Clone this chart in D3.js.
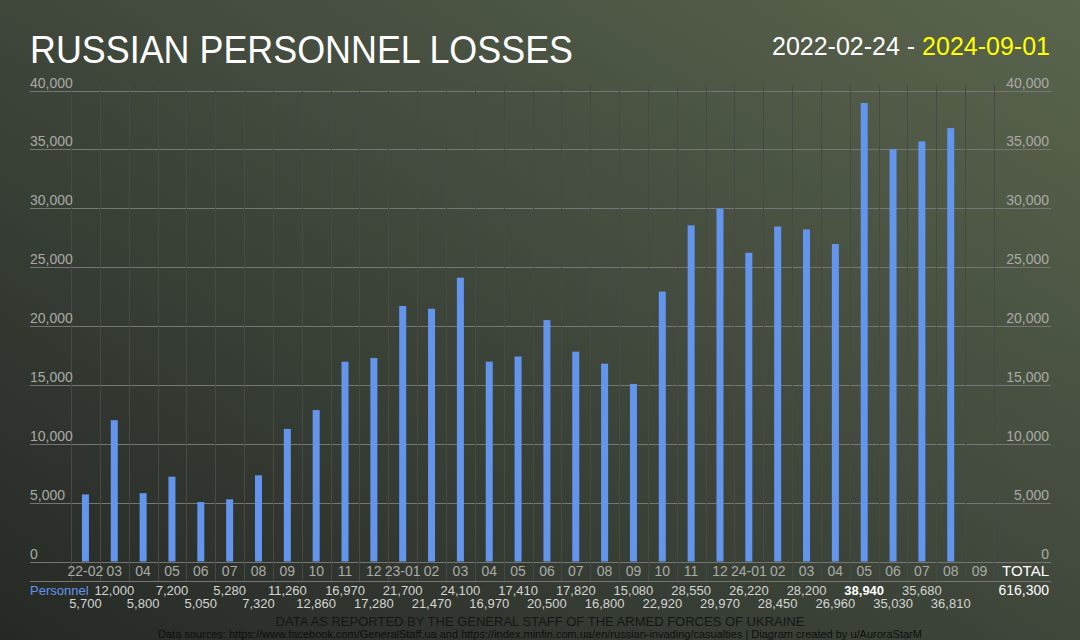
<!DOCTYPE html>
<html>
<head>
<meta charset="utf-8">
<script src="https://cdn.jsdelivr.net/npm/d3@7"></script>
<style>
  html, body { margin: 0; padding: 0; background: #333; overflow: hidden; }
  svg { display: block; }
</style>
</head>
<body>
<script>
var w = 1080,
    h = 640;

var months = ["22-02","03","04","05","06","07","08","09","10","11","12",
  "23-01","02","03","04","05","06","07","08","09","10","11","12",
  "24-01","02","03","04","05","06","07","08","09"];

var personnel = [5700, 12000, 5800, 7200, 5050, 5280, 7320, 11260, 12860, 16970, 17280,
  21700, 21470, 24100, 16970, 17410, 20500, 17820, 16800, 15080, 22920, 28550, 29970,
  26220, 28450, 28200, 26960, 38940, 35030, 35680, 36810, null];

var yTicks = [0, 5000, 10000, 15000, 20000, 25000, 30000, 35000, 40000];

var font = "'Liberation Sans', Arial, sans-serif";
var fmt = d3.format(",");

var svg = d3.select("body").append("svg")
  .attr("width", w)
  .attr("height", h);

// background gradient, dark bottom-left to olive top-right
var grad = svg.append("defs").append("linearGradient")
  .attr("id", "bg")
  .attr("x1", 0).attr("y1", 1).attr("x2", 1).attr("y2", 0);
grad.append("stop").attr("offset", 0).attr("stop-color", "#252925");
grad.append("stop").attr("offset", 0.45).attr("stop-color", "#3c4439");
grad.append("stop").attr("offset", 1).attr("stop-color", "#5a654d");
svg.append("rect").attr("width", w).attr("height", h).attr("fill", "url(#bg)");

var x = d3.scaleBand().domain(d3.range(months.length)).range([71, 994]);
var y = d3.scaleLinear().domain([0, 40000]).range([561.5, 90.5]);

var lineLeft = 30, lineRight = 1051;

// horizontal grid
svg.selectAll("line.hgrid").data(yTicks)
  .enter().append("line")
  .attr("class", "hgrid")
  .attr("x1", lineLeft).attr("x2", lineRight)
  .attr("y1", function(d) { return Math.round(y(d)) + 0.5; })
  .attr("y2", function(d) { return Math.round(y(d)) + 0.5; })
  .attr("stroke", "#767774")
  .attr("stroke-width", 1);

// vertical grid (band edges)
var edges = d3.range(months.length + 1).map(function(i) {
  return i < months.length ? x(i) : x.range()[1];
});
svg.selectAll("line.vgrid").data(edges)
  .enter().append("line")
  .attr("class", "vgrid")
  .attr("x1", function(d) { return Math.round(d) + 0.5; })
  .attr("x2", function(d) { return Math.round(d) + 0.5; })
  .attr("y1", 85).attr("y2", 581)
  .attr("stroke", "#464944")
  .attr("stroke-width", 1);

// line under the month labels
svg.append("line")
  .attr("x1", lineLeft).attr("x2", lineRight)
  .attr("y1", 581.5).attr("y2", 581.5)
  .attr("stroke", "#767774");

// bars
var barW = 7;
var barData = personnel.map(function(v, i) { return {i: i, v: v}; })
  .filter(function(d) { return d.v != null; });
svg.selectAll("rect.bar").data(barData)
  .enter().append("rect")
  .attr("class", "bar")
  .attr("x", function(d) { return x(d.i) + x.bandwidth() / 2 - barW / 2; })
  .attr("y", function(d) { return y(d.v); })
  .attr("width", barW)
  .attr("height", function(d) { return y(0) - y(d.v); })
  .attr("fill", "#6495ed");

// y axis labels, both sides
svg.selectAll("text.yl").data(yTicks)
  .enter().append("text")
  .attr("class", "yl")
  .text(function(d) { return fmt(d); })
  .attr("x", lineLeft)
  .attr("y", function(d) { return y(d) - 3; })
  .attr("font-family", font).attr("font-size", "14px")
  .attr("fill", "#a9aba6");

svg.selectAll("text.yr").data(yTicks)
  .enter().append("text")
  .attr("class", "yr")
  .text(function(d) { return fmt(d); })
  .attr("x", 1049)
  .attr("y", function(d) { return y(d) - 3; })
  .attr("text-anchor", "end")
  .attr("font-family", font).attr("font-size", "14px")
  .attr("fill", "#a9aba6");

// month labels
svg.selectAll("text.month").data(months)
  .enter().append("text")
  .attr("class", "month")
  .text(function(d) { return d; })
  .attr("x", function(d, i) { return x(i) + x.bandwidth() / 2; })
  .attr("y", 576)
  .attr("text-anchor", "middle")
  .attr("font-family", font).attr("font-size", "14px")
  .attr("fill", "#a9aba6");

svg.append("text").text("TOTAL")
  .attr("x", 1049).attr("y", 576)
  .attr("text-anchor", "end")
  .attr("font-family", font).attr("font-size", "15px")
  .attr("fill", "#ffffff");

// value table, alternating rows
var maxV = d3.max(personnel);
svg.selectAll("text.val").data(barData)
  .enter().append("text")
  .attr("class", "val")
  .text(function(d) { return fmt(d.v); })
  .attr("x", function(d) { return x(d.i) + x.bandwidth() / 2; })
  .attr("y", function(d) { return d.i % 2 ? 595 : 608; })
  .attr("text-anchor", "middle")
  .attr("font-family", font).attr("font-size", "13px")
  .attr("font-weight", function(d) { return d.v == maxV ? "bold" : "normal"; })
  .attr("fill", function(d) { return d.v == maxV ? "#ffffff" : "#d4d5d2"; });

svg.append("text").text("Personnel")
  .attr("x", lineLeft).attr("y", 595)
  .attr("font-family", font).attr("font-size", "13px")
  .attr("fill", "#6495ed");

svg.append("text").text(fmt(d3.sum(personnel)))
  .attr("x", 1049).attr("y", 595)
  .attr("text-anchor", "end")
  .attr("font-family", font).attr("font-size", "14px")
  .attr("fill", "#ffffff");

// titles
svg.append("text").text("RUSSIAN PERSONNEL LOSSES")
  .attr("x", 30).attr("y", 63)
  .attr("textLength", 543).attr("lengthAdjust", "spacingAndGlyphs")
  .attr("font-family", font).attr("font-size", "38px")
  .attr("fill", "#ffffff");

var dt = svg.append("text")
  .attr("x", 1050).attr("y", 55)
  .attr("text-anchor", "end")
  .attr("font-family", font).attr("font-size", "25px");
dt.append("tspan").text("2022-02-24 - ").attr("fill", "#ffffff");
dt.append("tspan").text("2024-09-01").attr("fill", "#ffff00");

// footer
svg.append("text").text("DATA AS REPORTED BY THE GENERAL STAFF OF THE ARMED FORCES OF UKRAINE")
  .attr("x", 540).attr("y", 626)
  .attr("text-anchor", "middle")
  .attr("font-family", font).attr("font-size", "13px")
  .attr("fill", "#141614");

svg.append("text").text("Data sources: https://www.facebook.com/GeneralStaff.ua and https://index.minfin.com.ua/en/russian-invading/casualties | Diagram created by u/AuroraStarM")
  .attr("x", 540).attr("y", 638)
  .attr("text-anchor", "middle")
  .attr("font-family", font).attr("font-size", "11px")
  .attr("fill", "#0d0f0d");
</script>
</body>
</html>
